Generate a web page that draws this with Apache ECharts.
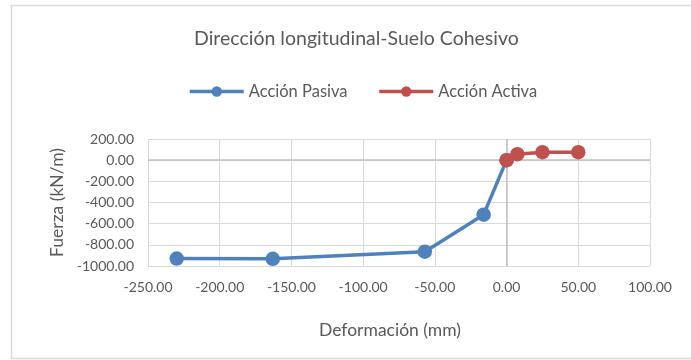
<!DOCTYPE html>
<html>
<head>
<meta charset="utf-8">
<script src="https://cdn.jsdelivr.net/npm/echarts@6/dist/echarts.min.js"></script>
<style>
  html, body { margin: 0; padding: 0; background: #fff; }
  #chart { width: 691px; height: 360px; }
</style>
</head>
<body>
<div id="chart"></div>
<script>
// Deformación (mm) vs. Fuerza (kN/m)
const pasivaX = [-230, -163, -57, -16, 0];
const pasivaY = [-930, -932, -865, -515, 0];
const activaX = [0, 7.5, 25, 50];
const activaY = [0, 57, 75, 75];

const xTicks = { min: -250, max: 100, interval: 50 };
const yTicks = { min: -1000, max: 200, interval: 200 };

const FONT = 'Lato, "Open Sans", sans-serif';
const TXT = '#595959';

const pair = (xs, ys) => xs.map((x, i) => [x, ys[i]]);

const chart = echarts.init(document.getElementById('chart'), null, { renderer: 'canvas' });
chart.setOption({
  backgroundColor: '#fff',
  animation: false,
  textStyle: { fontFamily: FONT, color: TXT },
  graphic: [{
    type: 'rect',
    shape: { x: 11.5, y: 5.5, width: 700, height: 353 },
    style: { fill: 'none', stroke: '#d9d9d9', lineWidth: 1.5 },
    silent: true
  }],
  title: {
    text: 'Dirección longitudinal-Suelo Cohesivo',
    left: 189,
    top: 24,
    textStyle: { fontFamily: FONT, fontSize: 19.5, fontWeight: 'normal', color: TXT }
  },
  legend: {
    top: 78,
    left: 183,
    itemWidth: 54,
    itemHeight: 13,
    itemGap: 30,
    lineStyle: { width: 3.5 },
    textStyle: { fontFamily: FONT, fontSize: 16.5, color: TXT },
    data: ['Acción Pasiva', 'Acción Activa']
  },
  grid: { left: 148, right: 41, top: 139, bottom: 94 },
  xAxis: {
    type: 'value',
    min: xTicks.min, max: xTicks.max, interval: xTicks.interval,
    name: 'Deformación (mm)',
    nameLocation: 'middle',
    nameGap: 55,
    nameTextStyle: { fontFamily: FONT, fontSize: 17.5, color: TXT, padding: [0, 18, 0, 0] },
    axisLine: { show: false },
    axisTick: { show: false },
    axisLabel: { fontFamily: FONT, fontSize: 14, color: TXT, margin: 14,
                 formatter: v => v.toFixed(2) },
    splitLine: { lineStyle: { color: '#d9d9d9', width: 1 } }
  },
  yAxis: {
    type: 'value',
    min: yTicks.min, max: yTicks.max, interval: yTicks.interval,
    name: 'Fuerza (kN/m)',
    nameLocation: 'middle',
    nameGap: 77,
    nameRotate: 90,
    nameTextStyle: { fontFamily: FONT, fontSize: 17.5, color: TXT },
    axisLine: { show: false },
    axisTick: { show: false },
    axisLabel: { fontFamily: FONT, fontSize: 14, color: TXT, margin: 14,
                 formatter: v => v.toFixed(2) },
    splitLine: { lineStyle: { color: '#d9d9d9', width: 1 } }
  },
  series: [
    {
      name: 'Acción Pasiva',
      type: 'line',
      data: pair(pasivaX, pasivaY),
      symbol: 'circle',
      symbolSize: 14.5,
      lineStyle: { color: '#4f81bd', width: 3.5 },
      itemStyle: { color: '#4f81bd' },
      z: 3,
      markLine: {
        silent: true,
        symbol: 'none',
        label: { show: false },
        lineStyle: { color: '#bfbfbf', width: 1.5, type: 'solid' },
        data: [{ xAxis: 0 }, { yAxis: 0 }],
        z: 1
      }
    },
    {
      name: 'Acción Activa',
      type: 'line',
      data: pair(activaX, activaY),
      symbol: 'circle',
      symbolSize: 14.5,
      lineStyle: { color: '#c0504d', width: 3.5 },
      itemStyle: { color: '#c0504d' },
      z: 4
    }
  ]
});
</script>
</body>
</html>
